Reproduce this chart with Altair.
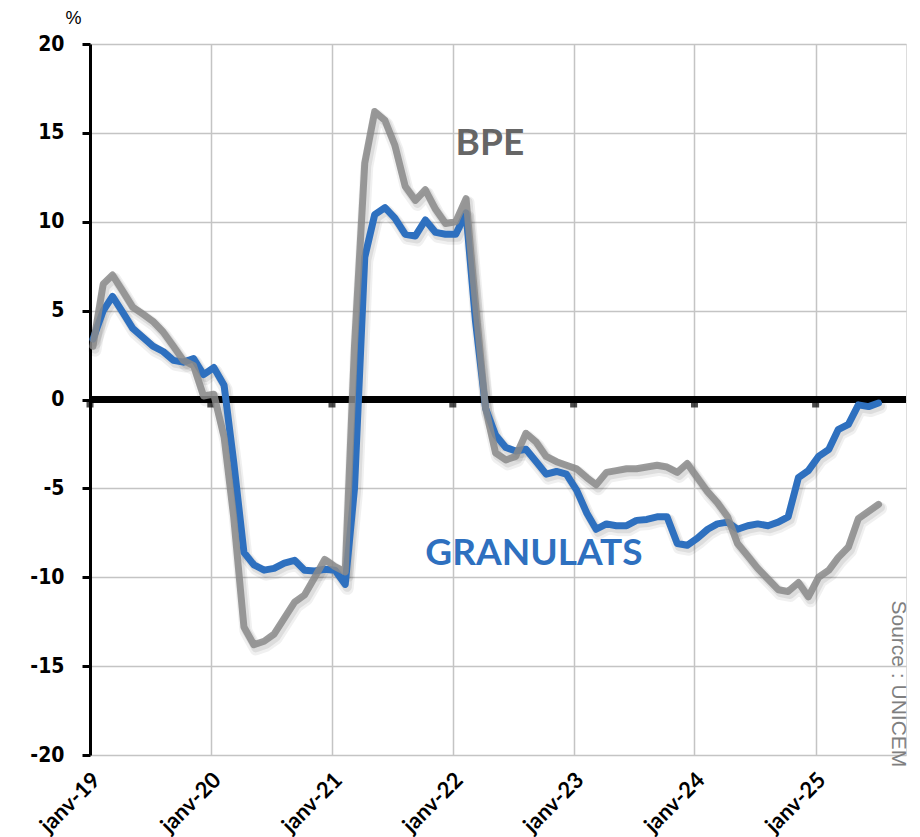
import altair as alt
import pandas as pd

# ---- data ----
months = pd.date_range("2019-01-01", periods=79, freq="MS") + pd.Timedelta(days=9)
granulats = [3.4, 5.0, 5.8, 4.9, 4.0, 3.5, 3.0, 2.7, 2.2, 2.1, 2.3, 1.4,
             1.8, 0.8, -3.5, -8.6, -9.3, -9.6, -9.5, -9.2, -9.05, -9.6, -9.65, -9.55,
             -9.6, -10.4, -5.0, 8.0, 10.4, 10.8, 10.2, 9.3, 9.2, 10.1, 9.4, 9.3,
             9.3, 10.5, 4.5, -0.5, -2.0, -2.7, -2.9, -2.8, -3.5, -4.2, -4.05, -4.2,
             -5.1, -6.4, -7.3, -7.0, -7.1, -7.1, -6.8, -6.75, -6.6, -6.6, -8.1, -8.2,
             -7.8, -7.3, -7.0, -6.9, -7.3, -7.1, -7.0, -7.1, -6.9, -6.6, -4.4, -4.0,
             -3.2, -2.8, -1.7, -1.4, -0.3, -0.4, -0.2]
bpe = [3.0, 6.5, 7.0, 6.1, 5.2, 4.8, 4.4, 3.8, 3.0, 2.2, 1.9, 0.2,
       0.3, -2.1, -6.6, -12.8, -13.8, -13.6, -13.2, -12.3, -11.4, -11.0, -10.0, -9.0,
       -9.4, -9.7, 3.0, 13.3, 16.2, 15.7, 14.3, 12.0, 11.2, 11.8, 10.7, 9.9,
       10.0, 11.3, 5.5, -0.5, -3.0, -3.4, -3.2, -1.9, -2.4, -3.2, -3.5, -3.7,
       -3.9, -4.4, -4.8, -4.1, -4.0, -3.9, -3.9, -3.8, -3.7, -3.8, -4.1, -3.6,
       -4.4, -5.2, -5.8, -6.6, -8.1, -8.8, -9.5, -10.1, -10.7, -10.8, -10.3, -11.1,
       -10.0, -9.6, -8.9, -8.3, -6.7, -6.3, -5.9]
year_ticks = ["2019-01-01", "2020-01-01", "2021-01-01", "2022-01-01",
              "2023-01-01", "2024-01-01", "2025-01-01"]
series_labels = ["GRANULATS", "BPE"]
label_dates = ["2022-09-03", "2022-04-23"]
label_values = [-8.7, 14.35]
source_text = "Source : UNICEM"

BLUE = "#2E70BF"
GREY = "#8A8A8A"

dates = [d.strftime("%Y-%m-%d") for d in months]
df_g = pd.DataFrame({"date": dates, "value": granulats, "serie": "GRANULATS"})
df_b = pd.DataFrame({"date": dates, "value": bpe, "serie": "BPE"})
df_all = pd.concat([df_g, df_b], ignore_index=True)
df_ticks = pd.DataFrame({"date": year_ticks, "value": [0] * len(year_ticks)})

x_scale = alt.Scale(type="utc",
                    domain=[alt.DateTime(year=2019, month=1, date=1, utc=True),
                            alt.DateTime(year=2025, month=10, date=1, utc=True)],
                    nice=False)
y_scale = alt.Scale(domain=[-20, 20], nice=False)

x_axis = alt.Axis(
    values=[alt.DateTime(year=int(t[:4]), month=1, date=1, utc=True) for t in year_ticks],
    labelExpr="'janv-' + utcFormat(datum.value, '%y')",
    labelAngle=-45, labelAlign="right", labelBaseline="middle",
    labelFont="Lato", labelFontWeight="bold", labelFontSize=22, labelColor="#000000",
    labelPadding=21, labelOffset=6, labelOverlap=False, labelBound=False,
    grid=True, gridColor="#C4C4C4", gridWidth=1.5,
    ticks=False, domain=False, title=None)
y_axis = alt.Axis(
    values=[-20, -15, -10, -5, 0, 5, 10, 15, 20],
    labelExpr="'' + datum.value",
    labelFont="DejaVu Sans Condensed, DejaVu Sans", labelFontWeight="bold",
    labelFontSize=21, labelColor="#000000", labelPadding=18,
    grid=True, gridColor="#C4C4C4", gridWidth=1.5,
    domain=True, domainColor="#000000", domainWidth=3,
    ticks=True, tickColor="#000000", tickWidth=3, tickSize=8,
    title="%", titleAngle=0, titleX=-17, titleY=-26, titleAlign="center",
    titleBaseline="middle", titleFont="Liberation Sans", titleFontSize=18,
    titleFontWeight="normal", titleColor="#000000")

base = alt.Chart(df_all)
X = alt.X("date:T", scale=x_scale, axis=x_axis)
Y = alt.Y("value:Q", scale=y_scale, axis=y_axis)

zero = alt.Chart(df_ticks).mark_rule(color="#000000", strokeWidth=6).encode(
    y=alt.Y("datum_zero:Q", scale=y_scale)).transform_calculate(datum_zero="0")
zticks = alt.Chart(df_ticks).mark_tick(color="#000000", orient="vertical",
                                       size=8, thickness=7, yOffset=4).encode(
    x=alt.X("date:T", scale=x_scale), y=alt.Y("value:Q", scale=y_scale))

shadow1 = base.mark_line(color="#000000", strokeWidth=13, opacity=0.06,
                         xOffset=2, yOffset=4, strokeJoin="round", strokeCap="round").encode(
    x=X, y=Y, detail="serie:N")
shadow2 = base.mark_line(color="#000000", strokeWidth=9, opacity=0.08,
                         xOffset=2, yOffset=3, strokeJoin="round", strokeCap="round").encode(
    x=X, y=Y, detail="serie:N")

line_g = alt.Chart(df_g).mark_line(color=BLUE, strokeWidth=7, strokeJoin="round",
                                   strokeCap="round").encode(x=X, y=Y)
line_b = alt.Chart(df_b).mark_line(color=GREY, strokeWidth=7, opacity=0.85,
                                   strokeJoin="round", strokeCap="round").encode(x=X, y=Y)

df_lab = pd.DataFrame({"date": label_dates, "value": label_values, "serie": series_labels})
labels = alt.Chart(df_lab).mark_text(font="Lato", fontWeight="bold", fontSize=37,
                                     align="center", baseline="middle").encode(
    x=alt.X("date:T", scale=x_scale), y=alt.Y("value:Q", scale=y_scale),
    text="serie:N",
    color=alt.Color("serie:N", scale=alt.Scale(domain=["GRANULATS", "BPE"],
                                               range=[BLUE, "#666666"]), legend=None))

df_src = pd.DataFrame({"date": ["2025-09-07"], "value": [-16.0], "txt": [source_text]})
source = alt.Chart(df_src).mark_text(font="Liberation Sans", fontSize=21, angle=90,
                                     color="#7F7F7F", align="center",
                                     baseline="middle").encode(
    x=alt.X("date:T", scale=x_scale), y=alt.Y("value:Q", scale=y_scale), text="txt:N")

chart = alt.layer(shadow1, shadow2, zero, zticks, line_g, line_b, labels, source,
                  base.mark_point(opacity=0).encode(x=X, y=Y)).properties(
    width=816, height=711,
    padding={"left": 82, "top": 36, "right": 6, "bottom": 82},
    autosize="none",
).configure_view(stroke=None).configure(background="#FFFFFF")

chart.save("out.html", embed_options={"renderer": "svg", "actions": False})
